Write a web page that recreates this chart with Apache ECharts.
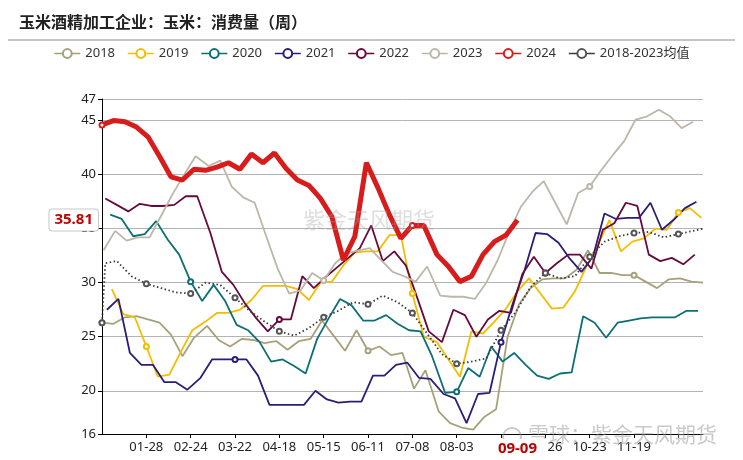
<!DOCTYPE html>
<html>
<head>
<meta charset="utf-8">
<script src="https://cdn.jsdelivr.net/npm/echarts@6/dist/echarts.min.js"></script>
<style>
  html, body { margin: 0; background: #fff; }
  #chart { width: 743px; height: 460px; }
</style>
</head>
<body>
<div id="chart"></div>
<script>
// weekly values (Monday dated)
const s2018 = [26.3, 26.2, 26.8, 26.9, 26.6, 26.3, 25.2, 23.2, 24.9, 26.0,
  24.7, 24.1, 24.8, 24.7, 24.4, 24.6, 23.8, 24.6, 24.8, 26.5,
  25.1, 23.7, 25.6, 23.7, 24.1, 23.3, 23.5, 20.2, 21.9, 18.1,
  17.0, 16.6, 16.4, 17.6, 18.3, 25.0, 28.0, 29.5, 30.3, 30.4,
  30.4, 31.2, 33.0, 30.9, 30.9, 30.7, 30.7, 30.1, 29.5, 30.3,
  30.4, 30.1, 30.0]
const s2019 = [29.4, 27.1, 26.8, 24.1, 21.3, 21.5, 23.6, 25.6, 26.4, 27.2,
  27.2, 27.5, 28.4, 29.7, 29.7, 29.7, 29.4, 28.4, 30.0, 30.1,
  31.6, 32.8, 32.9, 32.9, 34.4, 34.4, 29.0, 25.0, 24.5, 22.9,
  21.3, 25.5, 25.3, 26.4, 27.6, 29.2, 30.4, 29.0, 27.6, 27.7,
  29.2, 31.5, 33.5, 35.8, 32.9, 33.8, 34.1, 35.0, 34.9, 36.5,
  36.9, 36.0]
const s2020 = [36.3, 35.9, 34.3, 34.5, 35.7, 34.0, 32.6, 30.1, 28.3, 29.8,
  28.3, 26.1, 25.6, 24.5, 22.7, 22.9, 22.3, 21.6, 24.8, 26.7,
  28.5, 27.9, 26.5, 26.5, 27.0, 26.2, 25.6, 25.5, 23.2, 19.8,
  19.9, 22.1, 21.3, 24.1, 22.7, 23.5, 22.4, 21.4, 21.1, 21.6,
  21.7, 26.9, 26.3, 24.9, 26.3, 26.5, 26.7, 26.8, 26.8, 26.8,
  27.4, 27.4]
const s2021 = [27.5, 28.5, 23.5, 22.4, 22.4, 20.8, 20.8, 20.1, 21.2, 22.9,
  22.9, 22.9, 22.9, 21.4, 18.7, 18.7, 18.7, 18.7, 20.0, 19.2,
  18.9, 19.0, 19.0, 21.4, 21.4, 22.4, 22.6, 21.2, 21.1, 19.7,
  19.3, 17.0, 19.7, 19.8, 24.5, 28.0, 31.0, 34.6, 34.5, 33.7,
  32.2, 31.0, 32.4, 36.4, 35.9, 36.0, 36.0, 37.4, 34.9, 35.8,
  36.9, 37.5]
const s2022 = [37.8, 37.2, 36.6, 37.3, 37.1, 37.1, 37.2, 38.0, 38.0, 34.6,
  31.0, 29.8, 28.1, 26.7, 25.5, 26.6, 26.6, 30.6, 29.5, 30.5,
  31.4, 32.3, 33.2, 35.3, 32.0, 32.9, 31.6, 28.6, 25.5, 24.5,
  27.5, 27.0, 25.0, 26.6, 27.4, 27.2, 30.8, 32.4, 30.9, 31.8,
  32.6, 32.6, 31.3, 34.9, 35.5, 37.4, 37.1, 32.6, 32.0, 32.3,
  31.7, 32.6]
const s2023 = [33.0, 34.8, 33.9, 34.2, 34.2, 36.2, 38.2, 40.0, 41.7, 40.8,
  41.3, 38.9, 37.9, 37.4, 34.3, 31.3, 29.0, 29.3, 30.9, 30.2,
  31.8, 32.7, 33.0, 33.2, 32.1, 31.0, 30.6, 30.1, 31.5, 28.8,
  28.7, 28.7, 28.5, 30.0, 32.1, 34.7, 37.0, 38.4, 39.4, 37.4,
  35.4, 38.3, 38.9, 40.4, 41.8, 43.1, 45.1, 45.4, 46.0, 45.4,
  44.3, 44.9]
const s2024 = [44.6, 45.0, 44.9, 44.4, 43.5, 41.7, 39.8, 39.5, 40.5, 40.4,
  40.7, 41.1, 40.5, 41.9, 41.1, 42.0, 40.6, 39.5, 39.0, 37.8,
  36.1, 32.1, 34.3, 41.1, 38.8, 36.3, 34.1, 35.3, 35.3, 32.6,
  31.5, 30.1, 30.6, 32.6, 33.8, 34.4, 35.81]

// first Monday of each year's series
const firstDates = ['2018-01-01', '2019-01-07', '2020-01-06', '2021-01-04', '2022-01-03', '2023-01-02', '2024-01-01']
const names = ['2018', '2019', '2020', '2021', '2022', '2023', '2024', '2018-2023均值']
const colors = ['#a7a17b', '#f4bd00', '#0b6f75', '#2c1e78', '#660a3e', '#bdb6a9', '#d81c1c', '#555555']

// 2018-2023 mean, read at these category positions
const meanDays = [0, 2, 9, 18, 27, 36, 45, 54, 63, 72, 81, 90, 99, 108, 117, 126, 135, 144,
  153, 162, 171, 180, 189, 198, 207, 216, 225, 234, 243, 252, 261, 270, 279, 288,
  297, 306, 315, 324, 333, 342, 351, 360, 366]
const meanValues = [26.3, 31.8, 32.0, 30.6, 29.9, 29.5, 29.1, 29.0, 30.0, 29.8, 28.6, 27.4,
  26.4, 25.5, 25.1, 25.8, 26.8, 27.4, 28.2, 28.0, 28.8, 28.2, 27.2, 25.3, 23.4,
  22.5, 22.7, 23.0, 25.6, 27.3, 29.6, 30.9, 30.4, 30.6, 32.4, 33.8, 34.3, 34.6,
  34.7, 34.2, 34.5, 34.8, 35.0]

const latestDate = '09-09'
const latestValue = 35.81

// x categories: MM-DD of a full leap year (one blank slot, as in the source axis)
function mmdd(d) {
  return String(d.getUTCMonth() + 1).padStart(2, '0') + '-' + String(d.getUTCDate()).padStart(2, '0')
}
const days = []
for (let t = Date.UTC(2024, 0, 1); t <= Date.UTC(2024, 11, 31); t += 864e5) {
  const s = mmdd(new Date(t))
  days.push(s)
  if (s === '07-21') days.push('')
}

function weekly(start, values) {
  const t0 = Date.parse(start + 'T00:00:00Z')
  return values.map((v, k) => [days.indexOf(mmdd(new Date(t0 + k * 7 * 864e5))), v])
}

const onLabelDay = (i) => i % 27 === 0 && i <= 351

const yearly = [s2018, s2019, s2020, s2021, s2022, s2023, s2024]
const series = yearly.map((vals, i) => ({
  name: names[i],
  type: 'line',
  data: weekly(firstDates[i], vals),
  symbol: 'emptyCircle',
  showSymbol: true,
  showAllSymbol: true,
  symbolSize: (v) => onLabelDay(v[0]) ? 5 : 0,
  lineStyle: { color: colors[i], width: i === 6 ? 5 : 1.8 },
  itemStyle: { color: colors[i], borderWidth: 1 },
  emphasis: { disabled: true },
  z: i === 6 ? 5 : 2
}))
series.push({
  name: names[7],
  type: 'line',
  data: meanDays.map((d, i) => [d, meanValues[i]]),
  symbol: 'emptyCircle',
  showSymbol: true,
  showAllSymbol: true,
  symbolSize: (v) => onLabelDay(v[0]) ? 5 : 0,
  lineStyle: { color: '#3a3a3a', width: 1.8, type: [1.5, 2.5] },
  itemStyle: { color: colors[7], borderWidth: 1 },
  emphasis: { disabled: true },
  z: 3
})

const chart = echarts.init(document.getElementById('chart'))
const font = '"Noto Sans", "Noto Sans CJK SC", sans-serif'

chart.setOption({
  animation: false,
  backgroundColor: '#fff',
  textStyle: { fontFamily: font },
  title: {
    text: '玉米酒精加工企业：玉米：消费量（周）',
    left: 14,
    top: 9,
    textStyle: { fontSize: 16, fontWeight: 'bold', color: '#222', fontFamily: '"Noto Sans CJK SC", sans-serif' }
  },
  legend: {
    top: 42,
    left: 'center',
    itemWidth: 26,
    itemHeight: 11,
    itemGap: 12,
    lineStyle: { width: 1.5, type: 'solid' },
    itemStyle: { borderWidth: 1 },
    textStyle: { fontSize: 13, color: '#333' },
    data: names
  },
  grid: { left: 102, right: 40, top: 99, bottom: 26 },
  xAxis: {
    type: 'category',
    data: days,
    boundaryGap: false,
    axisLine: { lineStyle: { color: '#000', width: 1 } },
    axisTick: { interval: (i) => i % 27 === 0 && i > 0, length: 4, lineStyle: { color: '#000' } },
    axisLabel: {
      interval: (i) => i % 27 === 0 && i > 0 && i < 340 && i !== 243,
      fontSize: 13, color: '#222', margin: 7
    },
    splitLine: { show: false },
    axisPointer: {
      show: true,
      status: 'show',
      value: days.indexOf(latestDate),
      snap: false,
      triggerTooltip: false,
      lineStyle: { opacity: 0 },
      label: {
        show: true,
        color: '#c00000',
        fontWeight: 'bold',
        fontSize: 15,
        backgroundColor: '#fff',
        padding: [2, 11, 2, 11],
        margin: 5
      }
    }
  },
  yAxis: {
    type: 'value',
    min: 16,
    max: 47,
    axisLine: { show: true, lineStyle: { color: '#000', width: 1 } },
    axisTick: { show: true, length: 4, lineStyle: { color: '#000' } },
    axisLabel: { fontSize: 13, color: '#222', margin: 6 },
    splitLine: { lineStyle: { color: '#b4b4b4', width: 1 } },
    axisPointer: {
      show: true,
      status: 'show',
      value: latestValue,
      snap: false,
      triggerTooltip: false,
      lineStyle: { opacity: 0 },
      label: {
        show: true,
        formatter: () => latestValue.toFixed(2),
        color: '#c00000',
        fontWeight: 'bold',
        fontSize: 15,
        backgroundColor: '#fff',
        borderColor: '#c8c8c8',
        borderWidth: 1,
        padding: [3, 5, 3, 5],
        margin: 4
      }
    }
  },
  graphic: [
    { type: 'line', shape: { x1: 8, y1: 40, x2: 735, y2: 40 }, style: { stroke: '#8c8c8c', lineWidth: 1 }, z: 10 },
    { type: 'text', left: 303, top: 209, z: 20, style: { text: '紫金天风期货', fontSize: 22, fill: 'rgba(160,160,160,0.35)', fontFamily: '"Noto Sans CJK SC", sans-serif' } },
    { type: 'circle', shape: { cx: 512, cy: 437, r: 9 }, z: 20, style: { fill: 'none', stroke: 'rgba(150,150,150,0.5)', lineWidth: 2 } },
    { type: 'text', left: 528, top: 424, z: 20, style: { text: '雪球：紫金天风期货', fontSize: 21, fill: 'rgba(150,150,150,0.5)', fontFamily: '"Noto Sans CJK SC", sans-serif' } }
  ],
  series: series
})
</script>
</body>
</html>
